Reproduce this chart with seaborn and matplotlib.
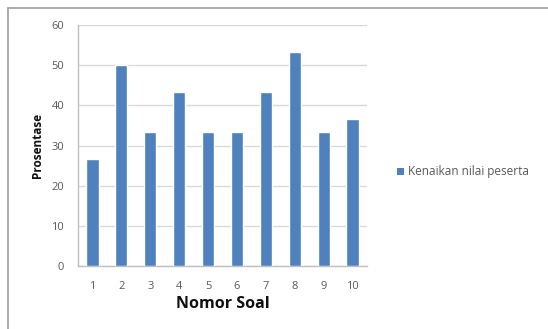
import matplotlib
matplotlib.use("Agg")
import matplotlib.pyplot as plt
import seaborn as sns
import pandas as pd
from matplotlib.lines import Line2D
from matplotlib.patches import Patch

# Question numbers and the percentage increase in participants' scores
soal = ["1", "2", "3", "4", "5", "6", "7", "8", "9", "10"]
kenaikan = [26.7, 50.0, 33.3, 43.3, 33.3, 33.3, 43.3, 53.3, 33.3, 36.7]
series_name = "Kenaikan nilai peserta"
y_ticks = [0, 10, 20, 30, 40, 50, 60]

df = pd.DataFrame({"Nomor Soal": soal, "Prosentase": kenaikan})

sns.set_theme(style="white")
plt.rcParams["font.family"] = ["Open Sans", "DejaVu Sans"]

bar_color = "#4f81bd"
text_gray = "#595959"

fig = plt.figure(figsize=(5.48, 3.29), dpi=100)
ax = fig.add_axes([78 / 548, 1 - 266 / 329, (367 - 78) / 548, (266 - 25) / 329])

sns.barplot(data=df, x="Nomor Soal", y="Prosentase", color=bar_color,
            width=0.42, saturation=1, ax=ax, zorder=3)

ax.set_ylim(0, 60)
ax.set_yticks(y_ticks)
ax.set_xlim(-0.5, len(soal) - 0.5)
ax.yaxis.grid(True, color="#d9d9d9", linewidth=1.0, zorder=0)
ax.set_axisbelow(True)

for side in ("top", "right"):
    ax.spines[side].set_visible(False)
for side in ("left", "bottom"):
    ax.spines[side].set_color("#bfbfbf")
    ax.spines[side].set_linewidth(1.0)

ax.tick_params(axis="both", colors=text_gray, labelsize=8, length=0)
ax.tick_params(axis="x", pad=11)
ax.tick_params(axis="y", pad=10)

ax.set_xlabel("Nomor Soal", fontsize=11.5, fontweight="bold", color="#111111", labelpad=3)
ax.set_ylabel("Prosentase", fontsize=8.5, fontweight="bold", color="#111111", labelpad=5)

handle = Patch(facecolor=bar_color, edgecolor="none")
fig.legend([handle], [series_name], loc="center left",
           bbox_to_anchor=(386 / 548, 1 - 172 / 329), frameon=False,
           fontsize=8.5, handlelength=0.6, handleheight=0.6, handletextpad=0.4,
           labelcolor=text_gray)

# Chart frame: top and left edges
frame_kw = dict(transform=fig.transFigure, color="#a6a6a6", linewidth=1.3)
fig.lines.append(Line2D([8 / 548, 1.0], [1 - 8 / 329, 1 - 8 / 329], **frame_kw))
fig.lines.append(Line2D([8 / 548, 8 / 548], [0.0, 1 - 8 / 329], **frame_kw))

fig.savefig("out.png", dpi=100)
